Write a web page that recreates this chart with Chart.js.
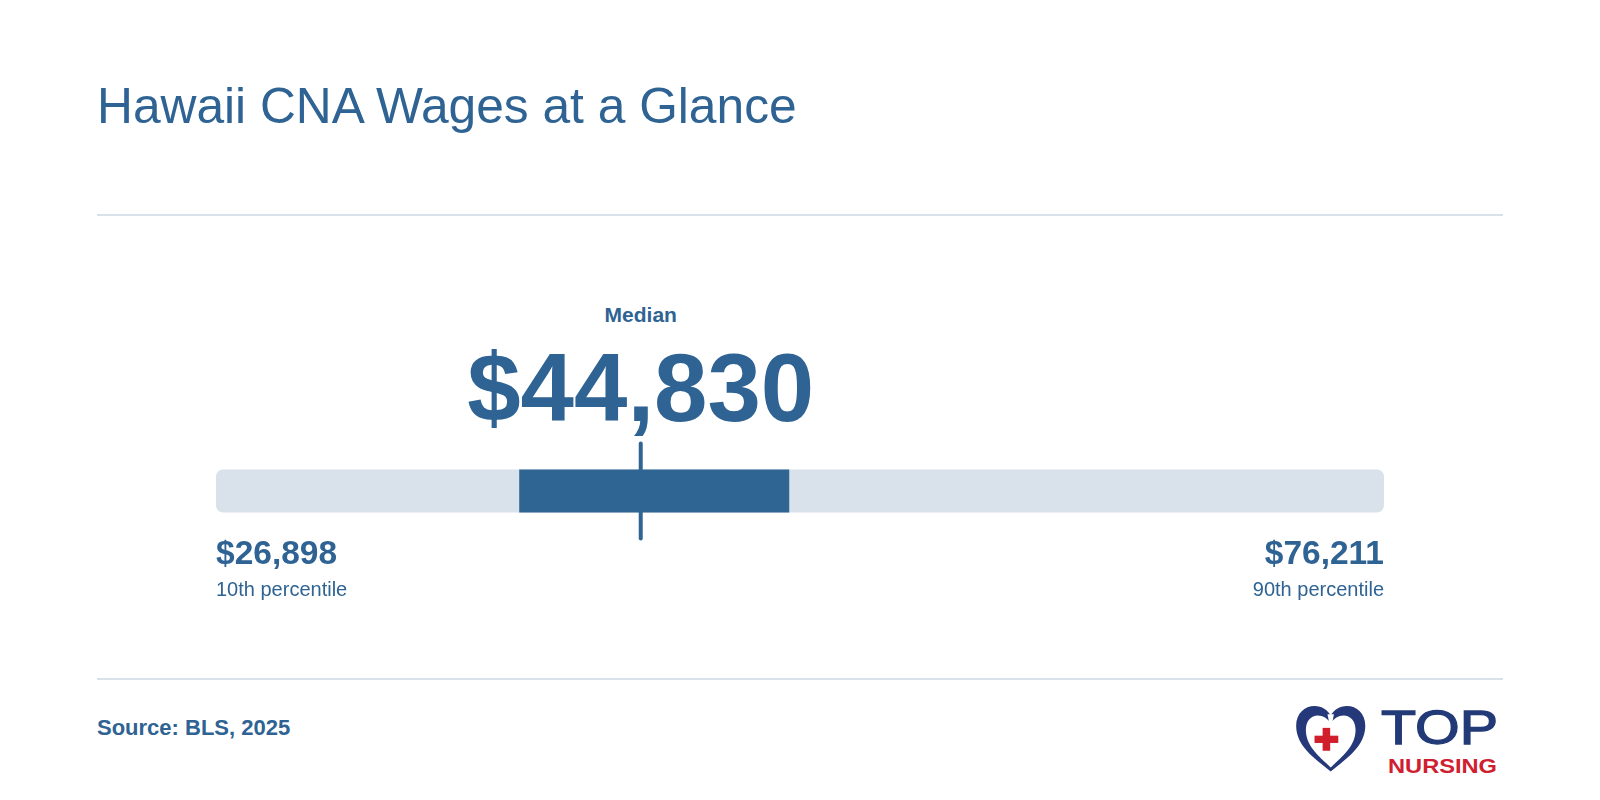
<!DOCTYPE html>
<html>
<head>
<meta charset="utf-8">
<title>Hawaii CNA Wages at a Glance</title>
<script src="https://cdn.jsdelivr.net/npm/chart.js@4"></script>
<style>
  html, body { margin: 0; padding: 0; background: #fff; }
  #page {
    position: relative; width: 1600px; height: 800px; overflow: hidden;
    font-family: "Liberation Sans", Arial, Helvetica, sans-serif; color: #2e6393;
  }
  .txt { position: absolute; white-space: nowrap; line-height: 1; }
  .rule { position: absolute; left: 97px; width: 1406px; height: 2px; background: #d9e1ea; }
  #wageChart { position: absolute; left: 0; top: 421px; }
  #logo { position: absolute; left: 1290px; top: 700px; }
</style>
</head>
<body>
<div id="page">
  <div class="txt" id="title">Hawaii CNA Wages at a Glance</div>
  <div class="rule" style="top:214px"></div>

  <div class="txt" id="medianCaption" style="font-weight:bold">Median</div>
  <div class="txt" id="medianValue" style="font-weight:bold"></div>

  <canvas id="wageChart" width="1600" height="140"></canvas>

  <div class="txt" id="lowValue" style="font-weight:bold"></div>
  <div class="txt" id="lowCaption"></div>
  <div class="txt" id="highValue" style="font-weight:bold"></div>
  <div class="txt" id="highCaption"></div>

  <div class="rule" style="top:678px"></div>
  <div class="txt" id="source" style="font-weight:bold">Source: BLS, 2025</div>

  <svg id="logo" width="220" height="80" viewBox="1290 700 220 80">
    <g transform="translate(1294 705) scale(1.08 1.04)">
      <path fill-rule="evenodd" fill="#25397a"
        d="M34,64 C20,52 2,40 2,20 C2,8 10,1 19,1 C26,1 31,5 34,10 C37,5 42,1 49,1 C58,1 66,8 66,20 C66,40 48,52 34,64 Z
           M34,60 C24,50 11,40 11,24 C11,15 16,10 22,10 C27,10 31,13 34,17 C37,13 41,10 46,10 C52,10 57,15 57,24 C57,40 44,50 34,60 Z"/>
      <path fill="#fff" d="M31,9 L37,9 L35,19 L33,19 Z"/>
      <rect x="26.5" y="22" width="7" height="22" fill="#d01f2b"/>
      <rect x="19" y="29.5" width="22" height="7" fill="#d01f2b"/>
    </g>
    <text x="1381" y="744" font-family="Liberation Sans, Arial, sans-serif" font-size="48"
          textLength="117" lengthAdjust="spacingAndGlyphs" fill="#233a78"
          stroke="#233a78" stroke-width="1.3">TOP</text>
    <text x="1388" y="773" font-family="Liberation Sans, Arial, sans-serif" font-size="21" font-weight="bold"
          textLength="109" lengthAdjust="spacingAndGlyphs" fill="#cf2030">NURSING</text>
  </svg>
</div>

<script>
// データ（BLS 2025, Hawaii CNA 年収）
const categories = ['Hawaii CNA'];
const percentileLabels = ['10th percentile', '25th percentile', 'Median', '75th percentile', '90th percentile'];
const wageP10 = [26898];
const wageP25 = [39700];   // 画像から読み取り（推定）
const wageMedian = [44830];
const wageP75 = [51100];   // 画像から読み取り（推定）
const wageP90 = [76211];

const DARK = '#2f6593';
const LIGHT = '#d9e1ea';

const fmt = v => '$' + v.toLocaleString('en-US');

/**
 * ベースライン基準でテキストを配置
 */
function place(id, x, baseline, size, align) {
    const el = document.getElementById(id);
    el.style.fontSize = size + 'px';
    el.style.top = (baseline - 0.8465 * size) + 'px';
    if (align === 'center') {
        el.style.left = x + 'px';
        el.style.transform = 'translateX(-50%)';
    } else if (align === 'right') {
        el.style.right = (1600 - x) + 'px';
    } else {
        el.style.left = x + 'px';
    }
}

// 中央値ティックの線端を丸くする
const roundCaps = {
    id: 'roundCaps',
    beforeDatasetDraw(chart) {
        chart.ctx.lineCap = 'round';
    }
};

const chart = new Chart(document.getElementById('wageChart').getContext('2d'), {
    type: 'bar',
    data: {
        labels: categories,
        datasets: [
            {
                type: 'scatter',
                label: percentileLabels[2],
                data: categories.map((c, i) => ({ x: wageMedian[i], y: c })),
                pointStyle: 'line',
                rotation: 90,
                radius: 47.5,
                borderWidth: 4,
                borderColor: DARK,
                backgroundColor: DARK,
                clip: false,
                order: 1
            },
            {
                label: percentileLabels[1] + ' - ' + percentileLabels[3],
                data: categories.map((c, i) => [wageP25[i], wageP75[i]]),
                backgroundColor: DARK,
                grouped: false,
                maxBarThickness: 43,
                order: 2
            },
            {
                label: percentileLabels[0] + ' - ' + percentileLabels[4],
                data: categories.map((c, i) => [wageP10[i], wageP90[i]]),
                backgroundColor: LIGHT,
                borderRadius: 7,
                borderSkipped: false,
                grouped: false,
                maxBarThickness: 43,
                order: 3
            }
        ]
    },
    options: {
        indexAxis: 'y',
        responsive: false,
        animation: false,
        events: [],
        layout: { autoPadding: false, padding: { left: 216, right: 216, top: 0, bottom: 0 } },
        scales: {
            x: { type: 'linear', min: wageP10[0], max: wageP90[0], display: false },
            y: { type: 'category', offset: true, display: false }
        },
        plugins: {
            legend: { display: false },
            tooltip: { enabled: false }
        }
    },
    plugins: [roundCaps]
});

// ラベル配置（スケールから位置を取得）
const xs = chart.scales.x;
const xMed = xs.getPixelForValue(wageMedian[0]);
const xLow = xs.getPixelForValue(wageP10[0]);
const xHigh = xs.getPixelForValue(wageP90[0]);

document.getElementById('medianValue').textContent = fmt(wageMedian[0]);
document.getElementById('lowValue').textContent = fmt(wageP10[0]);
document.getElementById('lowCaption').textContent = percentileLabels[0];
document.getElementById('highValue').textContent = fmt(wageP90[0]);
document.getElementById('highCaption').textContent = percentileLabels[4];

place('title', 97, 124.5, 49.7, 'left');
place('medianCaption', xMed, 322, 21, 'center');
place('medianValue', xMed, 421, 96, 'center');
place('lowValue', xLow, 564, 33.5, 'left');
place('lowCaption', xLow, 596, 20, 'left');
place('highValue', xHigh, 564, 33.5, 'right');
place('highCaption', xHigh, 596, 20, 'right');
place('source', 97, 736, 22, 'left');
</script>
</body>
</html>
